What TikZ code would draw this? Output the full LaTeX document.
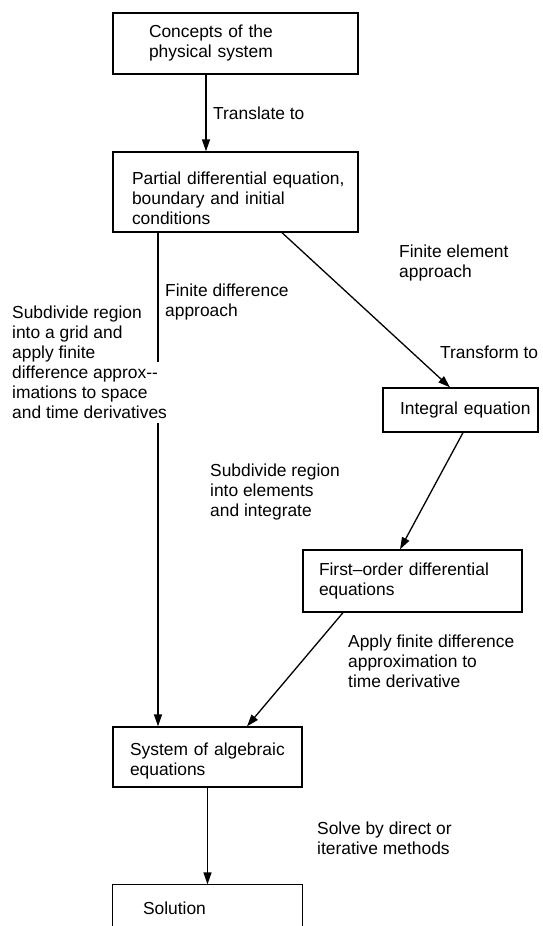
\documentclass[tikz,border=0pt]{standalone}
\usepackage{fontspec}
\setmainfont{Liberation Sans}
\usetikzlibrary{arrows.meta}
\begin{document}
\begin{tikzpicture}[x=1pt,y=-1pt,
  every node/.style={font=\fontsize{17.4}{20}\selectfont},
  box/.style={draw, line width=1.3pt, align=left, anchor=center, inner ysep=0pt},
  lbl/.style={anchor=west, align=left, inner sep=0pt},
  conn/.style={line width=1.3pt},
  arr/.style={line width=1.3pt, -{Triangle[length=12pt,width=8pt]}}]
\useasboundingbox (0,0) rectangle (542,926);

% boxes
\node[box, minimum width=245pt, minimum height=61pt, text width=173pt, inner xsep=36pt]
  (concepts) at (235.5,43.5) {\mbox{Concepts of the}\\\mbox{physical system}};
\node[box, minimum width=245pt, minimum height=80pt, text width=207pt, inner xsep=19pt]
  (pde) at (235.5,192) {\mbox{\rule{0pt}{25.7pt}Partial differential equation,}\\\mbox{boundary and initial}\\\mbox{conditions}};
\node[box, minimum width=155pt, minimum height=44pt, text width=121pt, inner xsep=17pt]
  (integral) at (460.5,410) {\mbox{Integral equation}};
\node[box, minimum width=219pt, minimum height=62pt, text width=187pt, inner xsep=16pt]
  (first) at (412.5,581) {\mbox{First--order differential}\\\mbox{equations}};
\node[box, minimum width=189pt, minimum height=60pt, text width=155pt, inner xsep=17pt]
  (system) at (207.5,757) {\mbox{\rule{0pt}{19.7pt}System of algebraic}\\\mbox{equations}};
\node[box, draw=none, minimum width=189pt, minimum height=46pt, text width=129pt, inner xsep=30pt]
  (solution) at (207.5,908) {\mbox{Solution}};
\draw[conn] (solution.south west) -- (solution.north west) -- (solution.north east) -- (solution.south east);

% labels
\node[lbl] (translate) at (213,113) {Translate to};
\node[lbl] (fdapp) at (165,302) {Finite difference\\approach};
\node[lbl] (grid) at (12,362) {Subdivide region\\into a grid and\\apply finite\\difference approx-{}-\\imations to space\\and time derivatives};
\node[lbl] (feapp) at (399,263) {Finite element\\approach};
\node[lbl] (transform) at (440,352) {Transform to};
\node[lbl] (elements) at (210,492) {Subdivide region\\into elements\\and integrate};
\node[lbl] (apply) at (348,661) {Apply finite difference\\approximation to\\time derivative};
\node[lbl] (solve) at (317,838) {Solve by direct or\\iterative methods};

% connectors
\draw[arr] ([xshift=-29.5pt]concepts.south) -- ([xshift=-29.5pt]pde.north);
\coordinate (gaptop) at (158,362);
\coordinate (gapbot) at (158,423);
\draw[conn] ([xshift=-77.5pt]pde.south) -- (gaptop);
\draw[arr] (gapbot) -- ([xshift=-49.5pt]system.north);
\draw[arr] ([xshift=46.5pt]pde.south) -- ([xshift=-10.5pt]integral.north);
\draw[arr] ([xshift=2.5pt]integral.south) -- ([xshift=-12.5pt]first.north);
\draw[arr] ([xshift=-69.5pt]first.south) -- ([xshift=39.5pt]system.north);
\draw[arr] (system.south) -- (solution.north);
\end{tikzpicture}
\end{document}
